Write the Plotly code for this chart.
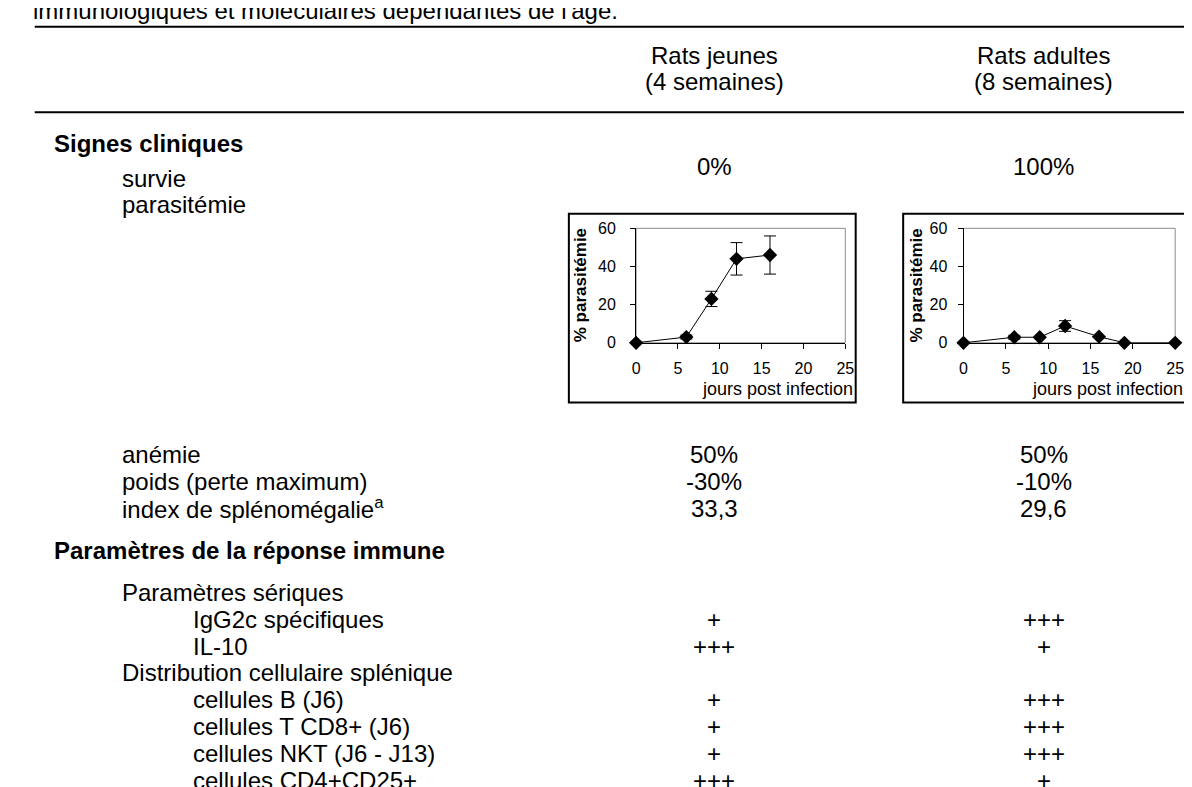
import plotly.graph_objects as go

W, H = 1192, 787

# ---------------- data ----------------
young_days = [0, 6, 9, 12, 16]
young_para = [0, 3, 23, 44, 46]
young_err = [None, 1, 4, 8.5, 10]

adult_days = [0, 6, 9, 12, 16, 19, 25]
adult_para = [0, 2.9, 2.9, 8.8, 3.2, 0, 0]
adult_err = [None, 1, None, 2.8, None, None, None]

x_ticks = [0, 5, 10, 15, 20, 25]
y_ticks = [0, 20, 40, 60]

title_fragment = "immunologiques et moléculaires dépendantes de l'âge."
col_head1 = ["Rats jeunes", "Rats adultes"]
col_head2 = ["(4 semaines)", "(8 semaines)"]

# (label, indent level, bold, values or None)
rows = [
    ("Signes cliniques", 0, True, None),
    ("survie", 1, False, None),
    ("parasitémie", 1, False, None),
    ("anémie", 1, False, ["50%", "50%"]),
    ("poids (perte maximum)", 1, False, ["-30%", "-10%"]),
    ("index de splénomégalie<sup>a</sup>", 1, False, ["33,3", "29,6"]),
    ("Paramètres de la réponse immune", 0, True, None),
    ("Paramètres sériques", 1, False, None),
    ("IgG2c spécifiques", 2, False, ["+", "+++"]),
    ("IL-10", 2, False, ["+++", "+"]),
    ("Distribution cellulaire splénique", 1, False, None),
    ("cellules B (J6)", 2, False, ["+", "+++"]),
    ("cellules T CD8+ (J6)", 2, False, ["+", "+++"]),
    ("cellules NKT (J6 - J13)", 2, False, ["+", "+++"]),
    ("cellules CD4+CD25+", 2, False, ["+++", "+"]),
]
survie_vals = ["0%", "100%"]

# ---------------- layout helpers ----------------
def px(x):
    return x / W

def py(y):
    return 1 - y / H

FONT = "Liberation Sans, Arial, sans-serif"
row_y = [130, 166, 193, 448, 475.5, 503, 546, 589, 616.5, 644, 671, 698.5, 726, 753.5, 781]
indent_x = [40, 109, 181]
col_x = [710, 1043]

fig = go.Figure()

fig.add_trace(go.Scatter(
    x=young_days, y=young_para, mode="lines+markers",
    line=dict(color="black", width=1),
    marker=dict(symbol="diamond", size=11, color="black"),
    error_y=dict(type="data", array=young_err, color="black", thickness=1, width=6, visible=True),
    cliponaxis=False, xaxis="x", yaxis="y", showlegend=False))

fig.add_trace(go.Scatter(
    x=adult_days, y=adult_para, mode="lines+markers",
    line=dict(color="black", width=1),
    marker=dict(symbol="diamond", size=11, color="black"),
    error_y=dict(type="data", array=adult_err, color="black", thickness=1, width=6, visible=True),
    cliponaxis=False, xaxis="x2", yaxis="y2", showlegend=False))

def xax(d0, d1, anchor):
    return dict(domain=[px(d0), px(d1)], range=[0, 25], tickvals=x_ticks,
                ticks="outside", ticklen=5, tickcolor="black", tickwidth=1,
                showline=True, linecolor="black", linewidth=1, showgrid=False,
                zeroline=False, tickfont=dict(family=FONT, size=16, color="black"),
                ticklabelstandoff=6, anchor=anchor)

def yax(anchor, standoff):
    return dict(domain=[py(334), py(217)], range=[0, 60], tickvals=y_ticks,
                ticks="outside", ticklen=5, tickcolor="black", tickwidth=1,
                showline=True, linecolor="black", linewidth=1, showgrid=False,
                zeroline=False, tickfont=dict(family=FONT, size=16, color="black"),
                ticklabelstandoff=standoff, anchor=anchor)

shapes = []
# table rules
for yy in (11, 98.5):
    shapes.append(dict(type="line", xref="paper", yref="paper",
                       x0=px(23), x1=px(1192), y0=py(yy), y1=py(yy),
                       line=dict(color="black", width=2)))
# chart frames
for (a, b) in ((563, 853), (901, 1187)):
    shapes.append(dict(type="rect", xref="paper", yref="paper",
                       x0=px(a), x1=px(b), y0=py(395), y1=py(202),
                       line=dict(color="black", width=2), layer="below"))
# grey plot-area borders
for (xr, yr) in (("x domain", "y domain"), ("x2 domain", "y2 domain")):
    shapes.append(dict(type="rect", xref=xr, yref=yr, x0=0, x1=1, y0=0, y1=1,
                       line=dict(color="#8c8c8c", width=1), layer="below"))

ann = []
def text(x, y, s, size=24, bold=False, xanchor="left", angle=0):
    ann.append(dict(x=px(x), y=py(y), xref="paper", yref="paper", text=("<b>%s</b>" % s) if bold else s,
                    showarrow=False, xanchor=xanchor, yanchor="middle", textangle=angle,
                    font=dict(family=FONT, size=size, color="black")))

text(19, -6, title_fragment)
for i in range(2):
    text(col_x[i], 40, col_head1[i], xanchor="center")
    text(col_x[i], 67, col_head2[i], xanchor="center")
    text(col_x[i], 154, survie_vals[i], xanchor="center")

for (label, lvl, bold, vals), yy in zip(rows, row_y):
    text(indent_x[lvl], yy, label, bold=bold)
    if vals:
        for i in range(2):
            text(col_x[i], yy, vals[i], xanchor="center")

# chart axis titles
for xc in (575, 915):
    text(xc, 275.5, "% parasitémie", size=17, bold=True, xanchor="center", angle=-90)
for xr in (852, 1186):
    text(xr, 381, "jours post infection", size=18, xanchor="right")

fig.update_layout(
    width=W, height=H, margin=dict(l=0, r=0, t=0, b=0),
    paper_bgcolor="white", plot_bgcolor="white",
    xaxis=xax(631, 842.5, "y"), yaxis=yax("x", 11),
    xaxis2=xax(962, 1176, "y2"), yaxis2=yax("x2", 7),
    shapes=shapes, annotations=ann, showlegend=False)

fig.write_html("out.html")
